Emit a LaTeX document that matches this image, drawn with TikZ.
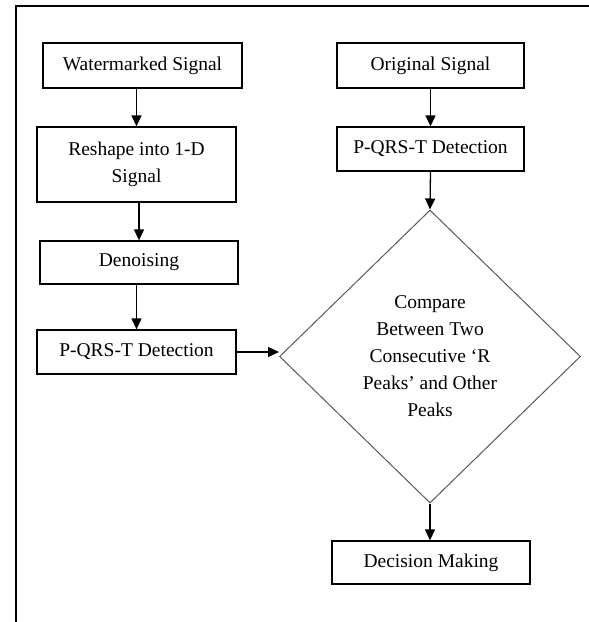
\documentclass[tikz,border=0pt]{standalone}
\usepackage{fontspec}
\setmainfont{Liberation Serif}
\usepackage{tikz}
\usetikzlibrary{shapes.geometric,arrows.meta,positioning,calc}

\begin{document}
\begin{tikzpicture}[x=1pt, y=-1pt,
    font=\fontsize{19.5}{27}\selectfont,
    block/.style={draw, rectangle, line width=1.3pt, inner sep=0pt, align=center},
    decide/.style={draw=black!65, diamond, line width=1pt, inner sep=0pt, align=center},
    arr/.style={-{Triangle[length=11pt,width=10pt]}, line width=1.3pt}]
    \useasboundingbox (0,0) rectangle (589,622);
    % frame
    \draw [line width=1.4pt] (16,622) -- (16,6) -- (589,6);

    % left column
    \node [block, minimum width=199pt, minimum height=45pt] (wsig) at (142.5,65.5) {Watermarked Signal};
    \node [block, minimum width=199pt, minimum height=75pt] (reshape) at (136.5,164.5) {Reshape into 1-D\\Signal};
    \node [block, minimum width=198pt, minimum height=43pt] (denoise) at (139,262.5) {Denoising};
    \node [block, minimum width=199pt, minimum height=44pt] (pqrsL) at (136.5,352) {P-QRS-T Detection};

    % right column
    \node [block, minimum width=187pt, minimum height=45pt] (orig) at (430.5,65.5) {Original Signal};
    \node [block, minimum width=187pt, minimum height=44pt] (pqrsR) at (430.5,149) {P-QRS-T Detection};
    \node [decide, minimum width=301pt, minimum height=293pt] (cmp) at (430,356.5)
        {Compare\\Between Two\\Consecutive ‘R\\Peaks’ and Other\\Peaks};
    \node [block, minimum width=198pt, minimum height=43pt] (decision) at (431,562.5) {Decision Making};

    % connectors
    \draw [arr] (reshape.north |- wsig.south) -- (reshape.north);
    \draw [arr] (denoise.north |- reshape.south) -- (denoise.north);
    \draw [arr] (pqrsL.north |- denoise.south) -- (pqrsL.north);
    \draw [arr] (pqrsL.east) -- (pqrsL.east -| cmp.west);
    \draw [arr] (orig.south) -- (pqrsR.north);
    \draw [arr] (pqrsR.south) -- (cmp.north);
    \draw [arr] (cmp.south) -- (cmp.south |- decision.north);
\end{tikzpicture}
\end{document}
